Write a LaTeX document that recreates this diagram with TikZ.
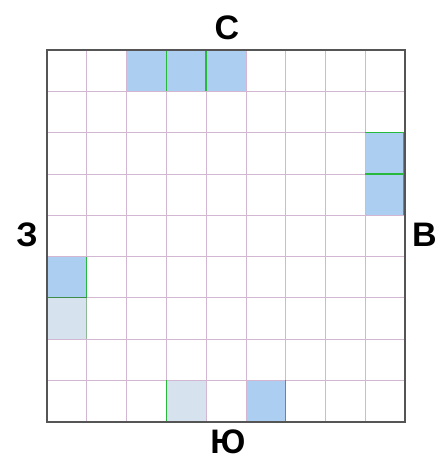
\documentclass[tikz,border=0pt]{standalone}
\usepackage{fontspec}
\setmainfont{Liberation Sans}
\definecolor{gridpink}{RGB}{210,182,210}
\definecolor{frame}{RGB}{85,85,85}
\definecolor{cellblue}{RGB}{172,206,240}
\definecolor{celllight}{RGB}{214,226,238}
\definecolor{edgegreen}{RGB}{40,185,60}
\begin{document}
\begin{tikzpicture}[x=1pt,y=-1pt,
  gridline/.style={gridpink,line width=0.8pt},
  frameline/.style={frame,line width=1.6pt},
  greenline/.style={edgegreen,line width=1.3pt},
  bluecell/.style={fill=cellblue},
  lightcell/.style={fill=celllight},
  dirlabel/.style={font=\fontsize{34}{34}\selectfont\bfseries,inner sep=0pt}]
\def\cw{39.78}
\def\ch{41.3}
\useasboundingbox (0,0) rectangle (441,461);
\fill[white] (0,0) rectangle (441,461);
% filled cells (column, row)
\foreach \c/\r in {2/0,3/0,4/0,8/2,8/3,0/5,5/8}
  \fill[bluecell] (47+\c*\cw,50+\r*\ch) rectangle ++(\cw,\ch);
\foreach \c/\r in {0/6,3/8}
  \fill[lightcell] (47+\c*\cw,50+\r*\ch) rectangle ++(\cw,\ch);
% grid
\foreach \i in {1,...,8} {
  \draw[gridline] (47+\i*\cw,50) -- (47+\i*\cw,50+9*\ch);
  \draw[gridline] (47,50+\i*\ch) -- (47+9*\cw,50+\i*\ch);
}
% green edges
\draw[greenline] (47+3*\cw,50) -- ++(0,\ch);
\draw[greenline] (47+4*\cw,50) -- ++(0,\ch);
\draw[greenline] (47+8*\cw,50+2*\ch) -- ++(\cw,0);
\draw[greenline] (47+8*\cw,50+3*\ch) -- ++(\cw,0);
\draw[greenline] (47+9*\cw-1.5,50+2*\ch) -- ++(0,2*\ch);
\draw[greenline] (47+\cw,50+5*\ch) -- ++(0,\ch);
\draw[greenline,draw=edgegreen!55!frame] (47,50+6*\ch) -- ++(\cw,0);
\draw[greenline,draw=edgegreen!40!gridpink] (47+\cw,50+6*\ch) -- ++(0,\ch);
\draw[greenline] (47+3*\cw,50+8*\ch) -- ++(0,\ch);
\draw[greenline] (47+6*\cw,50+8*\ch) -- ++(0,\ch);
% frame
\draw[frameline] (47,50) rectangle (47+9*\cw,50+9*\ch);
% labels
\node[dirlabel] (north) at (227,28) {С};
\node[dirlabel] (west) at (27,235) {З};
\node[dirlabel] (east) at (424.5,235) {В};
\node[dirlabel] (south) at (228,442) {Ю};
\end{tikzpicture}
\end{document}
